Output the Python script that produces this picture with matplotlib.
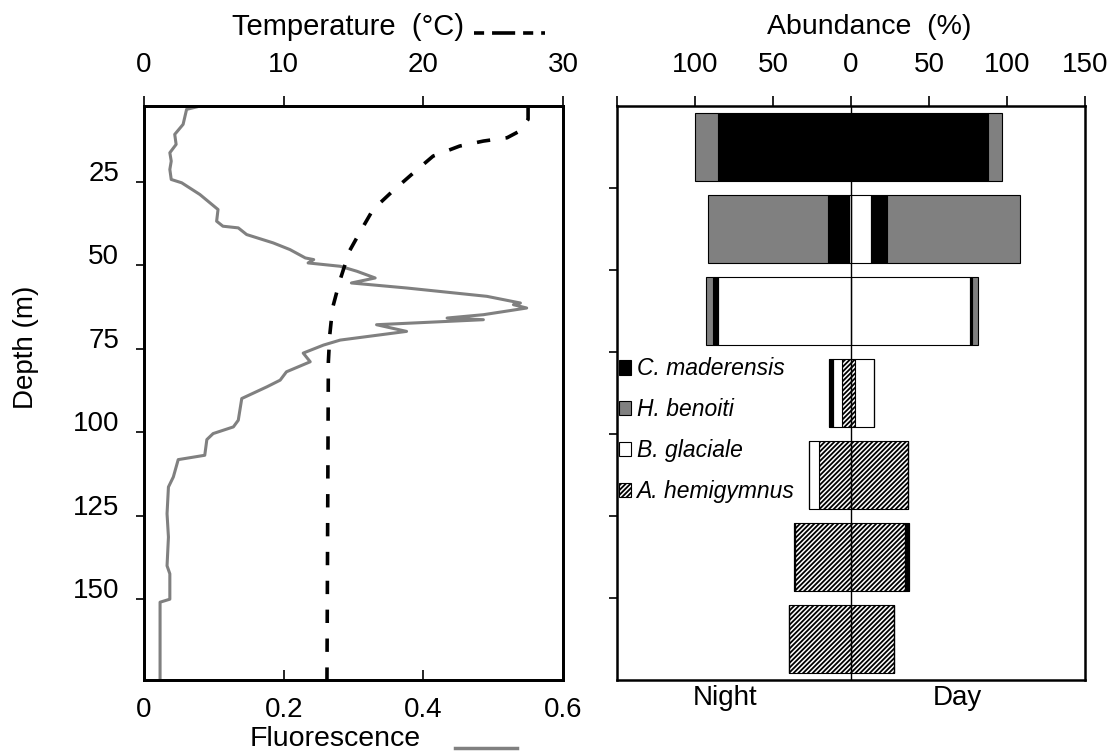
import matplotlib
matplotlib.use('Agg')
import matplotlib.pyplot as plt
import matplotlib.transforms as mtransforms
from matplotlib.patches import Patch
from matplotlib.lines import Line2D

plt.rcParams['font.family'] = ['Liberation Sans', 'DejaVu Sans']
plt.rcParams['hatch.linewidth'] = 1.3

# fluorescence profile (depth m, fluorescence)
fl_depth = [2.6, 3.3, 7.8, 10.8, 13.8, 16.3, 18.8, 21.3, 24.3, 25.3, 28.8, 33.3, 36.8,
            38.3, 38.8, 40.8, 43.3, 45.3, 47.8, 48.3, 49.3, 50.3, 51.8, 53.8, 55.3,
            56.8, 59.3, 61.3, 61.8, 62.8, 64.8, 65.8, 66.3, 67.8, 69.8, 72.4, 73.9,
            76.3, 78.9, 81.9, 84.4, 86.4, 89.9, 96.4, 98.4, 100.4, 102.2, 106.9,
            108.2, 113.4, 116.4, 124.4, 131.4, 140.0, 142.4, 150.0, 150.9, 174.5]
fluor = [0.075, 0.061, 0.056, 0.044, 0.046, 0.037, 0.039, 0.037, 0.039, 0.054, 0.080,
         0.106, 0.104, 0.113, 0.135, 0.147, 0.185, 0.209, 0.231, 0.243, 0.235, 0.281,
         0.305, 0.331, 0.297, 0.376, 0.491, 0.539, 0.529, 0.548, 0.486, 0.434, 0.486,
         0.333, 0.376, 0.281, 0.257, 0.228, 0.238, 0.204, 0.195, 0.176, 0.140, 0.135,
         0.128, 0.099, 0.090, 0.087, 0.049, 0.042, 0.035, 0.033, 0.035, 0.033, 0.037,
         0.037, 0.023, 0.023]

# temperature profile (depth m, deg C)
t_depth = [2.7, 6.3, 9.8, 11.8, 12.8, 14.3, 17.3, 22.3, 27.8, 33.3, 39.8, 45.8, 54.9,
           62.8, 70.9, 78.9, 174.5]
temp = [27.5, 27.5, 26.9, 26.0, 24.3, 22.6, 20.7, 19.3, 17.8, 16.4, 15.5, 14.7, 14.0,
        13.5, 13.3, 13.2, 13.1]

# abundance (%) per 25 m depth bin, night and day
depth_bins = ['0-25', '25-50', '50-75', '75-100', '100-125', '125-150', '150-175']
species = ['A. hemigymnus', 'B. glaciale', 'C. maderensis', 'H. benoiti']
night = {
    'A. hemigymnus': [0, 0, 0, 5.8, 20.7, 35.7, 39.5],
    'B. glaciale':   [0, 1, 85.5, 6.0, 6.0, 0, 0],
    'C. maderensis': [85, 13.5, 3.0, 2.6, 0, 1.0, 0],
    'H. benoiti':    [15, 77, 4.3, 0, 0, 0, 0],
}
day = {
    'A. hemigymnus': [0, 0, 0, 2.8, 36.5, 34.6, 27.8],
    'B. glaciale':   [0, 13, 76, 11.8, 0, 0, 0],
    'C. maderensis': [88, 10, 1.7, 0, 0, 2.3, 0],
    'H. benoiti':    [9, 85.5, 3.8, 0, 0, 0, 0],
}
colors = {'A. hemigymnus': 'white', 'B. glaciale': 'white',
          'C. maderensis': 'black', 'H. benoiti': '#808080'}
hatches = {'A. hemigymnus': '///////', 'B. glaciale': None,
           'C. maderensis': None, 'H. benoiti': None}
legend_order = ['C. maderensis', 'H. benoiti', 'B. glaciale', 'A. hemigymnus']

W, H = 1117, 753
fig = plt.figure(figsize=(W / 100, H / 100), dpi=100)


def box(x0, y0, x1, y1):
    return [x0 / W, 1 - y1 / H, (x1 - x0) / W, (y1 - y0) / H]


# ---- left panel
ax = fig.add_axes(box(144, 106, 563, 680))
ax.plot(fluor, fl_depth, color='#808080', lw=2.2)
ax.set_xlim(0, 0.6)
ax.set_ylim(174.2, 2.3)
ax.set_xticks([0, 0.2, 0.4, 0.6])
ax.set_xticklabels(['0', '0.2', '0.4', '0.6'])
ax.set_yticks([25, 50, 75, 100, 125, 150])
ax.tick_params(axis='x', direction='in', length=7, width=1.2, labelsize=20, pad=12)
ax.tick_params(axis='y', direction='out', length=6, width=1.2, labelsize=20, pad=12)
off = mtransforms.ScaledTranslation(0, 0.11, fig.dpi_scale_trans)
for lab in ax.get_yticklabels():
    lab.set_transform(lab.get_transform() + off)

ax2 = ax.twiny()
ax2.plot(temp, t_depth, color='k', lw=2.6, dashes=(3.7, 4.3))
ax2.set_xlim(0, 30)
ax2.set_xticks([0, 10, 20, 30])
ax2.tick_params(axis='x', direction='out', length=7, width=1.2, labelsize=20, pad=13)
for a in (ax, ax2):
    for s in a.spines.values():
        s.set_linewidth(2)

# ---- right panel
axr = fig.add_axes(box(617, 106, 1085, 680))
pos = list(range(len(depth_bins)))
cum_n = [0] * len(pos)
cum_d = [0] * len(pos)
for sp in species:
    axr.barh(pos, day[sp], left=cum_d, height=0.83, color=colors[sp],
             edgecolor='k', lw=0.8, hatch=hatches[sp])
    axr.barh(pos, [-v for v in night[sp]], left=[-c for c in cum_n], height=0.83,
             color=colors[sp], edgecolor='k', lw=0.8, hatch=hatches[sp])
    cum_d = [c + v for c, v in zip(cum_d, day[sp])]
    cum_n = [c + v for c, v in zip(cum_n, night[sp])]
axr.axvline(0, color='k', lw=1, zorder=3)
axr.set_xlim(-150, 150)
axr.set_ylim(6.5, -0.5)
axr.xaxis.tick_top()
axr.set_xticks([-150, -100, -50, 0, 50, 100, 150])
axr.set_xticklabels(['', '100', '50', '0', '50', '100', '150'])
axr.set_yticks([0.5, 1.5, 2.5, 3.5, 4.5, 5.5])
axr.set_yticklabels([])
axr.tick_params(axis='x', direction='out', length=7, width=1.2, labelsize=20, pad=13)
axr.tick_params(axis='y', direction='out', length=6, width=1.2)
for s in axr.spines.values():
    s.set_linewidth(1.8)

handles = [Patch(facecolor=colors[sp], edgecolor='k', lw=0.8, hatch=hatches[sp])
           for sp in legend_order]
axr.legend(handles, legend_order, loc='upper left', bbox_to_anchor=(0.005, 0.562),
           frameon=False, prop={'style': 'italic', 'size': 16.5}, handlelength=0.5,
           handleheight=0.6, handletextpad=0.25, labelspacing=0.78, borderaxespad=0,
           borderpad=0)

bt = mtransforms.blended_transform_factory(axr.transData, axr.transAxes)
axr.text(-81, -0.031, 'Night', transform=bt, ha='center', va='center', fontsize=20)
axr.text(68, -0.031, 'Day', transform=bt, ha='center', va='center', fontsize=20)

# ---- axis titles and line keys
fig.text(348 / W, 1 - 27 / H, 'Temperature  (°C)', ha='center', va='center', fontsize=21)
fig.add_artist(Line2D([474 / W, 545 / W], [1 - 33 / H] * 2, color='k', lw=2.6,
                      dashes=(2.8, 2.2, 6.4, 2.2)))
fig.text(869 / W, 1 - 27 / H, 'Abundance  (%)', ha='center', va='center', fontsize=20.5)
fig.text(335 / W, 1 - 739 / H, 'Fluorescence', ha='center', va='center', fontsize=20.5)
fig.add_artist(Line2D([455 / W, 517 / W], [1 - 748 / H] * 2, color='#808080', lw=2.5))
fig.text(26 / W, 1 - 347 / H, 'Depth (m)', ha='center', va='center', rotation=90,
         fontsize=20)

fig.savefig('out.png', dpi=100)
